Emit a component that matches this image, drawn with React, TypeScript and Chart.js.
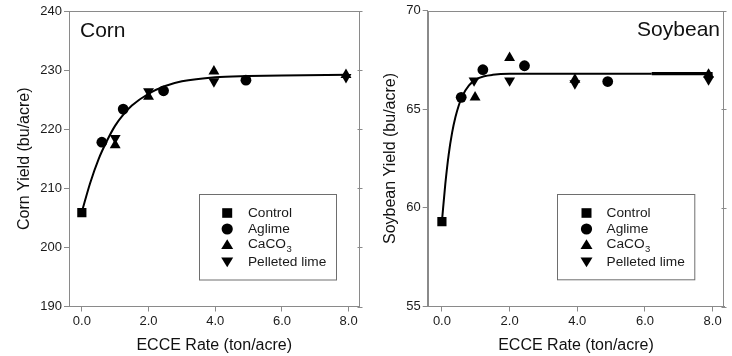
import React, { useEffect, useRef } from "react";
import { Chart, registerables } from "chart.js";

Chart.register(...registerables);

const FONT = "'Liberation Sans', Arial, Helvetica, sans-serif";

// ---------- shared axis ticks ----------
const xTickValues = [0, 2, 4, 6, 8];
const xAxisTitle = "ECCE Rate (ton/acre)";
const legendLabels = ["Control", "Aglime", "CaCO₃", "Pelleted lime"];

// ---------- Corn ----------
const cornYTicks = [190, 200, 210, 220, 230, 240];
const cornControlX = [0];
const cornControlY = [205.9];
const cornAglimeX = [0.6, 1.24, 2.45, 4.92];
const cornAglimeY = [217.8, 223.4, 226.5, 228.3];
const cornCaco3X = [1.0, 2.0, 3.96, 7.92];
const cornCaco3Y = [217.3, 225.5, 229.8, 229.2];
const cornPelletX = [1.0, 2.0, 3.96, 7.92];
const cornPelletY = [218.5, 226.4, 228.1, 228.8];
const cornCurveX = [0, 0.25, 0.5, 0.75, 1, 1.25, 1.5, 2, 2.5, 3, 4, 5, 6, 8];
const cornCurveY = [206, 210.9, 214.9, 218.0, 220.6, 222.5, 224.0, 226.0, 227.3, 228.1, 228.8, 229.0, 229.1, 229.2];

// ---------- Soybean ----------
const soyYTicks = [55, 60, 65, 70];
const soyControlX = [0];
const soyControlY = [59.3];
const soyAglimeX = [0.57, 1.21, 2.44, 4.9];
const soyAglimeY = [65.6, 67.0, 67.2, 66.4];
const soyCaco3X = [0.98, 2.0, 3.93, 7.88];
const soyCaco3Y = [65.6, 67.6, 66.5, 66.76];
const soyPelletX = [0.95, 2.0, 3.93, 7.88];
const soyPelletY = [66.45, 66.45, 66.3, 66.5];
const soyCurveX = [0, 0.1, 0.2, 0.3, 0.4, 0.5, 0.6, 0.8, 1.0, 1.25, 1.5, 2, 3, 4, 6.2, 8];
const soyCurveY = [59.3, 61.2, 62.7, 63.8, 64.6, 65.2, 65.65, 66.2, 66.5, 66.67, 66.74, 66.79, 66.8, 66.8, 66.8, 66.8];

const zip = (xs: number[], ys: number[]) => xs.map((x, i) => ({ x, y: ys[i] }));

type PanelSpec = {
  left: number;
  label: string;
  labelAlign: "left" | "right";
  labelInset: number;
  yTitle: string;
  yTicks: number[];
  yAxisWidth: number;
  padTop: number;
  padRight: number;
  xMin: number;
  xMax: number;
  curve: { x: number; y: number }[];
  thickFrom: number | null;
  control: { x: number; y: number }[];
  aglime: { x: number; y: number }[];
  caco3: { x: number; y: number }[];
  pellet: { x: number; y: number }[];
  legendRightInset: number;
  legendBottomInset: number;
  legendW: number;
  legendH: number;
  legendSymX: number;
  legendTextX: number;
};

const FRAME = "#8a8a8a";

function drawSymbol(ctx: CanvasRenderingContext2D, kind: number, cx: number, cy: number) {
  ctx.fillStyle = "#000";
  ctx.beginPath();
  if (kind === 0) {
    ctx.rect(cx - 5, cy - 4.8, 10, 9.6);
  } else if (kind === 1) {
    ctx.arc(cx, cy, 5.6, 0, Math.PI * 2);
  } else if (kind === 2) {
    ctx.moveTo(cx, cy - 5.2);
    ctx.lineTo(cx + 6, cy + 4.6);
    ctx.lineTo(cx - 6, cy + 4.6);
    ctx.closePath();
  } else {
    ctx.moveTo(cx - 6, cy - 4.6);
    ctx.lineTo(cx + 6, cy - 4.6);
    ctx.lineTo(cx, cy + 5.2);
    ctx.closePath();
  }
  ctx.fill();
}

function makePlugin(spec: PanelSpec) {
  return {
    id: "decor",
    afterDraw(chart: any) {
      const ctx: CanvasRenderingContext2D = chart.ctx;
      const a = chart.chartArea;
      const ys = chart.scales.y;
      ctx.save();
      // frame
      ctx.strokeStyle = FRAME;
      ctx.lineWidth = 1;
      const L = Math.round(a.left) + 0.5;
      const R = Math.round(a.right) - 0.5;
      const T = Math.round(a.top) + 0.5;
      const B = Math.round(a.bottom) - 0.5;
      ctx.strokeRect(L, T, R - L, B - T);
      // right side ticks
      ctx.beginPath();
      spec.yTicks.forEach((v) => {
        const py = Math.round(ys.getPixelForValue(v)) + 0.5;
        ctx.moveTo(R - 2, py);
        ctx.lineTo(R + 3, py);
      });
      ctx.stroke();

      // panel label
      ctx.fillStyle = "#111";
      ctx.font = `21px ${FONT}`;
      ctx.textBaseline = "alphabetic";
      if (spec.labelAlign === "left") {
        ctx.textAlign = "left";
        ctx.fillText(spec.label, a.left + spec.labelInset, a.top + 25.5);
      } else {
        ctx.textAlign = "right";
        ctx.fillText(spec.label, a.right - spec.labelInset, a.top + 25.5);
      }

      // legend box
      const bx = Math.round(a.right - spec.legendRightInset - spec.legendW) + 0.5;
      const by = Math.round(a.bottom - spec.legendBottomInset - spec.legendH) + 0.5;
      ctx.strokeStyle = "#6e6e6e";
      ctx.strokeRect(bx, by, spec.legendW, spec.legendH);
      const rows = [18.5, 34.5, 50, 67.5];
      ctx.font = `13.7px ${FONT}`;
      ctx.textAlign = "left";
      ctx.textBaseline = "middle";
      legendLabels.forEach((lab, i) => {
        const cy = by + rows[i];
        drawSymbol(ctx, i, bx + spec.legendSymX, cy);
        ctx.fillStyle = "#1a1a1a";
        ctx.font = `13.7px ${FONT}`;
        const idx = lab.indexOf("₃");
        if (idx >= 0) {
          const main = lab.slice(0, idx);
          ctx.fillText(main, bx + spec.legendTextX, cy);
          const w = ctx.measureText(main).width;
          ctx.font = `9.5px ${FONT}`;
          ctx.fillText("3", bx + spec.legendTextX + w + 0.5, cy + 5);
        } else {
          ctx.fillText(lab, bx + spec.legendTextX, cy);
        }
      });
      ctx.restore();
    },
  };
}

function Panel({ spec }: { spec: PanelSpec }) {
  const ref = useRef<HTMLCanvasElement>(null);
  useEffect(() => {
    if (!ref.current) return;
    const pointBase = { showLine: false, pointBackgroundColor: "#000", pointBorderWidth: 0, borderColor: "#000" };
    const chart = new Chart(ref.current, {
      type: "scatter",
      data: {
        datasets: [
          {
            label: "fit",
            data: spec.curve,
            showLine: true,
            pointRadius: 0,
            borderColor: "#000",
            borderWidth: 2,
            cubicInterpolationMode: "monotone",
            segment: {
              borderWidth: (c: any) =>
                spec.thickFrom !== null && c.p0.parsed.x >= spec.thickFrom ? 3.4 : 2,
            },
          } as any,
          { ...pointBase, label: legendLabels[0], data: spec.control, pointStyle: "rect", pointRadius: 6.5 } as any,
          { ...pointBase, label: legendLabels[1], data: spec.aglime, pointStyle: "circle", pointRadius: 5.4 } as any,
          { ...pointBase, label: legendLabels[2], data: spec.caco3, pointStyle: "triangle", pointRadius: 6.3 } as any,
          { ...pointBase, label: legendLabels[3], data: spec.pellet, pointStyle: "triangle", pointRotation: 180, pointRadius: 6.3 } as any,
        ],
      },
      options: {
        responsive: false,
        animation: false,
        devicePixelRatio: 1,
        events: [],
        layout: { padding: { top: spec.padTop, right: spec.padRight, left: 0, bottom: 0 } },
        plugins: { legend: { display: false }, tooltip: { enabled: false } },
        scales: {
          x: {
            type: "linear",
            min: spec.xMin,
            max: spec.xMax,
            afterBuildTicks: (s: any) => {
              s.ticks = xTickValues.map((v) => ({ value: v }));
            },
            afterFit: (s: any) => {
              s.height = 49.5;
            },
            grid: { display: true, drawOnChartArea: false, drawTicks: true, tickLength: 5, color: FRAME },
            border: { display: true, color: FRAME },
            ticks: {
              padding: 2.5,
              color: "#1a1a1a",
              font: { family: FONT, size: 13 },
              maxRotation: 0,
              autoSkip: false,
              callback: (v: any) => Number(v).toFixed(1),
            },
            title: {
              display: true,
              text: xAxisTitle,
              color: "#111",
              font: { family: FONT, size: 16 },
              padding: { top: 0, bottom: 1 },
            },
          },
          y: {
            type: "linear",
            min: spec.yTicks[0],
            max: spec.yTicks[spec.yTicks.length - 1],
            afterBuildTicks: (s: any) => {
              s.ticks = spec.yTicks.map((v) => ({ value: v }));
            },
            afterFit: (s: any) => {
              s.width = spec.yAxisWidth;
            },
            grid: { display: true, drawOnChartArea: false, drawTicks: true, tickLength: 5, color: FRAME },
            border: { display: true, color: FRAME },
            ticks: {
              padding: 2,
              color: "#1a1a1a",
              font: { family: FONT, size: 13 },
              autoSkip: false,
            },
            title: {
              display: true,
              text: spec.yTitle,
              color: "#111",
              font: { family: FONT, size: 16 },
              padding: { top: 15.4, bottom: 0 },
            },
          },
        },
      } as any,
      plugins: [makePlugin(spec)],
    });
    return () => chart.destroy();
  }, []);
  return (
    <canvas
      ref={ref}
      width={366}
      height={356}
      style={{ position: "absolute", left: spec.left, top: 0, width: 366, height: 356 }}
    />
  );
}

const cornSpec: PanelSpec = {
  left: 0,
  label: "Corn",
  labelAlign: "left",
  labelInset: 11,
  yTitle: "Corn Yield (bu/acre)",
  yTicks: cornYTicks,
  yAxisWidth: 69,
  padTop: 11,
  padRight: 2.7,
  xMin: -0.385,
  xMax: 8.325,
  curve: zip(cornCurveX, cornCurveY),
  thickFrom: null,
  control: zip(cornControlX, cornControlY),
  aglime: zip(cornAglimeX, cornAglimeY),
  caco3: zip(cornCaco3X, cornCaco3Y),
  pellet: zip(cornPelletX, cornPelletY),
  legendRightInset: 24,
  legendBottomInset: 27,
  legendW: 137,
  legendH: 85.5,
  legendSymX: 27.7,
  legendTextX: 48.4,
};

const soySpec: PanelSpec = {
  left: 366,
  label: "Soybean",
  labelAlign: "right",
  labelInset: 4.3,
  yTitle: "Soybean Yield (bu/acre)",
  yTicks: soyYTicks,
  yAxisWidth: 61.7,
  padTop: 10.5,
  padRight: 7.7,
  xMin: -0.42,
  xMax: 8.345,
  curve: zip(soyCurveX, soyCurveY),
  thickFrom: 6.2,
  control: zip(soyControlX, soyControlY),
  aglime: zip(soyAglimeX, soyAglimeY),
  caco3: zip(soyCaco3X, soyCaco3Y),
  pellet: zip(soyPelletX, soyPelletY),
  legendRightInset: 30,
  legendBottomInset: 27.3,
  legendW: 137.3,
  legendH: 85.3,
  legendSymX: 29,
  legendTextX: 49,
};

export default function App() {
  return (
    <div style={{ position: "absolute", left: 0, top: 0, width: 732, height: 356, background: "#fff" }}>
      <Panel spec={cornSpec} />
      <Panel spec={soySpec} />
    </div>
  );
}
